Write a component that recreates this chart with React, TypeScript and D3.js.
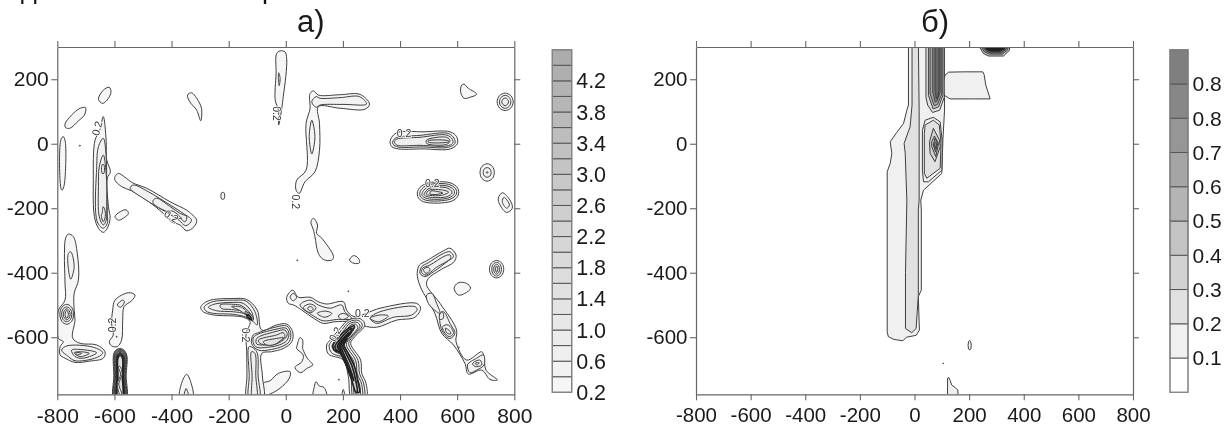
import React, { useEffect, useRef } from 'react'
import { axisBottom, axisLeft, axisRight, axisTop, curveCatmullRomClosed, curveLinearClosed, line, scaleLinear, select } from 'd3'

type Pt = [number, number]
type Ring = [number, Pt[]]

// tick labels and legend levels
const xTicks = [-800, -600, -400, -200, 0, 200, 400, 600, 800]
const yTicks = [200, 0, -200, -400, -600]
const levelsA = [0.2, 0.4, 0.6, 0.8, 1.0, 1.2, 1.4, 1.6, 1.8, 2.0, 2.2, 2.4, 2.6, 2.8, 3.0, 3.2, 3.4, 3.6, 3.8, 4.0, 4.2, 4.4, 4.6]
const legendLabelsA = ['0.2', '0.6', '1.0', '1.4', '1.8', '2.2', '2.6', '3.0', '3.4', '3.8', '4.2']
const levelsB = [0, 0.1, 0.2, 0.3, 0.4, 0.5, 0.6, 0.7, 0.8, 0.85, 0.95]
const legendLabelsB = ['0.1', '0.2', '0.3', '0.4', '0.5', '0.6', '0.7', '0.8', '0.8']

// panel a, contour rings in data units, outer first
const topStreak: Ring[] = [
  [0.2, [[-32, 280], [-20, 288], [-3, 285], [3, 265], [0, 208], [-9, 146], [-14, 110], [-25, 58], [-26, 105], [-37, 135], [-34, 218]]],
  [0.4, [[-25, 220], [-20, 205], [-23, 180], [-26, 205]]],
]
const upperLeftBlobs: Ring[] = [
  [0.2, [[-656, 138], [-639, 166], [-618, 175], [-612, 161], [-621, 141], [-641, 125]]],
  [0.2, [[-773, 61], [-750, 89], [-720, 110], [-701, 112], [-705, 89], [-726, 71], [-756, 48], [-771, 50]]],
  [0.2, [[-787, 14], [-779, 22], [-772, 6], [-777, -133], [-784, -144], [-789, -128]]],
  [0.2, [[-721, -4], [-719, -6], [-721, -8], [-723, -6]]],
  [0.2, [[-344, 151], [-330, 158], [-312, 141], [-295, 109], [-298, 71], [-312, 104], [-336, 130]]],
  [0.2, [[-225, -152], [-216, -152], [-216, -171], [-225, -171]]],
  [0.2, [[-598, -226], [-580, -211], [-559, -205], [-551, -216], [-569, -231], [-586, -237]]],
]
const ridgeMinus650: Ring[] = [
  [0.2, [[-639, 84], [-629, 11], [-627, -50], [-614, -87], [-625, -107], [-621, -195], [-615, -231], [-625, -262], [-639, -275], [-656, -262], [-670, -226], [-674, -113], [-668, 11], [-652, 40]]],
  [0.4, [[-639, 17], [-629, -40], [-627, -133], [-625, -216], [-625, -247], [-639, -262], [-660, -242], [-662, -71], [-656, -9]]],
  [0.6, [[-639, -35], [-629, -92], [-627, -195], [-629, -237], [-639, -252], [-653, -226], [-656, -133], [-653, -71]]],
  [0.8, [[-633, -206], [-632, -226], [-639, -242], [-646, -221], [-643, -216], [-640, -195]]],
  [1.0, [[-643, -65], [-637, -65], [-637, -92], [-643, -92]]],
]
const diagonalRidge: Ring[] = [
  [0.2, [[-598, -102], [-586, -92], [-563, -104], [-537, -121], [-487, -138], [-405, -180], [-347, -206], [-330, -218], [-312, -237], [-321, -257], [-347, -270], [-370, -252], [-400, -242], [-429, -216], [-487, -175], [-540, -146], [-575, -133], [-598, -113]]],
  [0.4, [[-545, -138], [-534, -128], [-481, -149], [-405, -190], [-359, -216], [-330, -237], [-350, -254], [-382, -231], [-452, -195], [-499, -169]]],
  [0.6, [[-464, -175], [-452, -169], [-405, -195], [-370, -216], [-347, -226], [-353, -242], [-382, -221], [-430, -205], [-464, -185]]],
  [0.8, [[-400, -208], [-375, -222], [-365, -232], [-385, -228], [-410, -215]]],
]
const elbow100: Ring[] = [
  [0.2, [[85, 156], [97, 164], [114, 151], [190, 152], [260, 153], [293, 123], [277, 107], [190, 110], [114, 115], [118, 63], [118, -20], [102, -87], [67, -118], [47, -154], [36, -144], [38, -113], [71, -82], [71, 63], [85, 110], [83, 141]]],
  [0.4, [[106, 146], [120, 141], [190, 143], [258, 146], [283, 123], [200, 122], [120, 120], [106, 113], [91, 130]]],
  [0.4, [[91, 73], [102, 22], [91, -32], [82, 22]]],
]
const bar500Upper: Ring[] = [
  [0.2, [[394, 36], [480, 37], [575, 37], [598, 22], [601, 1], [577, -16], [480, -16], [394, -16], [371, -9], [365, 6], [374, 24]]],
  [0.4, [[383, 17], [470, 26], [569, 32], [589, 17], [592, 1], [569, -11], [480, -10], [388, -9], [374, 1]]],
  [0.6, [[388, 14], [470, 20], [563, 27], [583, 14], [584, 1], [563, -7], [470, -5], [388, -4], [380, 6]]],
  [0.8, [[493, 11], [563, 20], [575, 9], [563, -2], [493, 1]]],
  [1.0, [[499, 9], [570, 9], [570, 6], [499, 5]]],
]
const bar500Lower: Ring[] = [
  [0.2, [[493, -123], [575, -121], [602, -138], [604, -159], [581, -178], [482, -180], [462, -164], [464, -142]]],
  [0.4, [[497, -128], [570, -126], [595, -140], [597, -157], [575, -172], [490, -175], [470, -162], [472, -145]]],
  [0.6, [[500, -133], [565, -131], [588, -143], [590, -155], [570, -168], [495, -170], [477, -160], [480, -148]]],
  [0.8, [[503, -138], [560, -136], [580, -146], [582, -153], [565, -164], [500, -165], [484, -158], [488, -150]]],
  [1.0, [[505, -143], [545, -143], [570, -150], [545, -160], [505, -160], [492, -156], [495, -150]]],
  [1.2, [[508, -147], [530, -148], [550, -153], [530, -157], [505, -156]]],
]
const rightSpots: Ring[] = [
  [0.2, [[616, 182], [624, 185], [639, 172], [668, 154], [645, 144], [624, 141], [612, 161]]],
  [0.2, [[740, 130], [748, 149], [768, 157], [788, 149], [796, 130], [788, 111], [768, 103], [748, 111]]],
  [0.4, [[748, 130], [754, 144], [768, 150], [782, 144], [788, 130], [782, 116], [768, 110], [754, 116]]],
  [0.6, [[756, 130], [760, 138], [768, 142], [776, 138], [780, 130], [776, 122], [768, 118], [760, 122]]],
  [0.2, [[680, -89], [687, -70], [705, -62], [723, -70], [730, -89], [723, -108], [705, -116], [687, -108]]],
  [0.4, [[691, -89], [695, -78], [705, -74], [715, -78], [719, -89], [715, -100], [705, -104], [695, -100]]],
  [0.6, [[702, -89], [705, -86], [708, -89], [705, -92]]],
  [0.2, [[758, -152], [785, -175], [793, -200], [773, -213], [750, -190], [744, -169]]],
  [0.4, [[764, -166], [783, -190], [773, -200], [758, -180]]],
  [0.2, [[589, -448], [604, -431], [633, -433], [647, -448], [627, -464], [604, -469]]],
  [0.2, [[713, -389], [720, -370], [738, -362], [756, -370], [763, -389], [756, -408], [738, -416], [720, -408]]],
  [0.4, [[721, -389], [726, -374], [738, -368], [750, -374], [755, -389], [750, -404], [738, -410], [726, -404]]],
  [0.6, [[728, -389], [731, -378], [738, -374], [745, -378], [748, -389], [745, -400], [738, -404], [731, -400]]],
  [0.8, [[734, -389], [738, -379], [742, -389], [738, -399]]],
]
const leftColumn: Ring[] = [
  [0.2, [[-771, -293], [-761, -280], [-744, -288], [-730, -340], [-726, -423], [-741, -464], [-741, -516], [-738, -547], [-746, -603], [-720, -619], [-662, -624], [-633, -645], [-639, -665], [-686, -674], [-738, -678], [-773, -665], [-790, -655], [-790, -629], [-779, -614], [-796, -604], [-800, -567], [-796, -516], [-773, -485], [-773, -433], [-775, -340]]],
  [0.4, [[-761, -340], [-753, -335], [-741, -381], [-753, -420], [-762, -381]]],
  [0.4, [[-791, -529], [-784, -507], [-767, -498], [-750, -507], [-743, -529], [-750, -551], [-767, -560], [-784, -551]]],
  [0.6, [[-785, -529], [-780, -513], [-767, -506], [-754, -513], [-749, -529], [-754, -545], [-767, -552], [-780, -545]]],
  [0.8, [[-779, -529], [-775, -517], [-767, -512], [-759, -517], [-755, -529], [-759, -541], [-767, -546], [-775, -541]]],
  [1.0, [[-773, -529], [-767, -516], [-761, -529], [-767, -542]]],
  [0.4, [[-785, -640], [-767, -627], [-674, -631], [-641, -648], [-662, -663], [-738, -673], [-761, -660]]],
  [0.6, [[-750, -640], [-720, -638], [-662, -648], [-709, -665], [-738, -660]]],
  [0.8, [[-741, -648], [-720, -645], [-688, -650], [-720, -660]]],
  [1.0, [[-734, -648], [-715, -650], [-732, -655]]],
]
const hookMinus580: Ring[] = [
  [0.2, [[-598, -485], [-551, -462], [-528, -469], [-540, -487], [-566, -505], [-571, -547], [-575, -609], [-590, -629], [-610, -627], [-618, -614], [-604, -593], [-610, -557], [-606, -516]]],
  [0.4, [[-590, -500], [-571, -485], [-565, -490], [-578, -507]]],
  [0.4, [[-593, -597], [-591, -597], [-591, -600], [-593, -600]]],
]
const columnMinus580: Ring[] = [
  [0.2, [[-602, -790], [-602, -720], [-602, -650], [-590, -637], [-571, -637], [-557, -655], [-559, -720], [-559, -790]]],
  [0.4, [[-600, -790], [-600, -720], [-600, -651], [-590, -639], [-572, -639], [-559, -655], [-561, -720], [-561, -790]]],
  [0.6, [[-598, -790], [-598, -720], [-598, -652], [-589, -641], [-572, -641], [-561, -656], [-563, -720], [-563, -790]]],
  [0.8, [[-596, -790], [-596, -720], [-596, -653], [-588, -643], [-573, -643], [-563, -657], [-564, -720], [-564, -790]]],
  [1.0, [[-594, -790], [-594, -720], [-594, -655], [-587, -645], [-574, -645], [-565, -658], [-566, -720], [-566, -790]]],
  [1.2, [[-592, -790], [-592, -720], [-592, -658], [-586, -648], [-575, -648], [-567, -660], [-568, -720], [-568, -790]]],
  [1.4, [[-590, -790], [-590, -720], [-590, -660], [-585, -652], [-576, -652], [-569, -662], [-570, -720], [-570, -790]]],
  [1.6, [[-588, -790], [-588, -720], [-588, -665], [-582, -657], [-577, -657], [-571, -668], [-572, -720], [-572, -790]]],
  [0.2, [[-581, -690], [-573, -715], [-585, -745], [-575, -775], [-580, -778], [-590, -745], [-578, -715], [-586, -692]]],
]
const bottomTongues: Ring[] = [
  [0.2, [[-370, -790], [-365, -743], [-347, -715], [-333, -738], [-326, -790]]],
  [0.4, [[-356, -790], [-349, -759], [-340, -790]]],
  [0.2, [[-79, -743], [-55, -735], [-26, -712], [15, -707], [12, -728], [-20, -758], [-55, -776], [-73, -779]]],
  [0.2, [[97, -790], [100, -753], [106, -738], [117, -751], [134, -756], [143, -790]]],
  [0.2, [[197, -790], [201, -762], [207, -790]]],
  [0.2, [[185, -730], [187, -730], [187, -733], [185, -733]]],
  [0.2, [[218, -456], [220, -456], [220, -459], [218, -459]]],
  [0.2, [[39, -360], [41, -360], [41, -363], [39, -363]]],
  [0.2, [[40, -624], [50, -601], [59, -609], [59, -635], [61, -640], [75, -665], [94, -686], [73, -697], [52, -710], [32, -694], [56, -676], [61, -655], [38, -635]]],
  [0.2, [[88, -242], [97, -231], [111, -252], [108, -278], [126, -293], [167, -350], [161, -361], [132, -359], [114, -340], [102, -288], [97, -268]]],
  [0.2, [[223, -361], [237, -347], [254, -355], [258, -369], [239, -371]]],
]
const shoulderMinus150: Ring[] = [
  [0.2, [[-298, -507], [-271, -487], [-184, -480], [-137, -483], [-100, -516], [-84, -578], [-32, -562], [3, -559], [24, -583], [21, -614], [-9, -635], [-50, -645], [-84, -650], [-82, -720], [-79, -790], [-135, -790], [-136, -720], [-137, -640], [-139, -588], [-125, -552], [-149, -538], [-184, -534], [-254, -531], [-289, -521]]],
  [0.4, [[-128, -629], [-102, -645], [-97, -720], [-93, -790], [-128, -790], [-128, -720]]],
  [0.6, [[-120, -645], [-108, -650], [-105, -720], [-102, -790], [-117, -790], [-118, -720]]],
  [0.4, [[-286, -507], [-260, -491], [-178, -485], [-139, -488], [-108, -521], [-100, -562], [-114, -552], [-139, -538], [-184, -529], [-254, -526], [-279, -519]]],
  [0.6, [[-271, -507], [-248, -497], [-184, -492], [-149, -495], [-120, -521], [-114, -547], [-143, -528], [-184, -521], [-242, -518]]],
  [0.8, [[-230, -500], [-184, -498], [-155, -502], [-125, -526], [-120, -542], [-149, -521], [-190, -514], [-225, -511]]],
  [1.0, [[-190, -505], [-155, -507], [-128, -531], [-137, -531], [-163, -516]]],
  [1.2, [[-143, -521], [-120, -531], [-114, -547], [-131, -542]]],
  [1.4, [[-137, -529], [-125, -535], [-120, -545], [-131, -539]]],
  [0.4, [[-114, -593], [-96, -586], [-38, -569], [3, -565], [17, -586], [12, -614], [-14, -629], [-50, -638], [-96, -640], [-120, -619]]],
  [0.6, [[-111, -598], [-38, -576], [1, -572], [11, -588], [3, -611], [-23, -624], [-61, -631], [-102, -631], [-114, -617]]],
  [0.8, [[-102, -604], [-38, -583], [-3, -578], [5, -593], [-9, -609], [-38, -622], [-73, -624], [-102, -621]]],
  [1.0, [[-96, -609], [-32, -593], [-9, -586], [-3, -598], [-26, -614], [-61, -624], [-90, -619]]],
  [1.2, [[-79, -614], [-26, -603], [-9, -601], [-38, -622], [-67, -624]]],
]
const bandTo450: Ring[] = [
  [0.2, [[3, -476], [24, -454], [44, -476], [85, -476], [114, -490], [143, -497], [202, -490], [213, -516], [239, -536], [330, -510], [458, -495], [472, -510], [452, -538], [388, -547], [318, -569], [272, -565], [225, -552], [172, -552], [131, -557], [97, -541], [56, -516], [27, -500], [9, -495]]],
  [0.4, [[15, -476], [26, -464], [38, -476], [26, -487]]],
  [0.4, [[50, -500], [85, -485], [114, -500], [155, -510], [196, -500], [207, -521], [231, -542], [178, -545], [131, -549], [97, -534]]],
  [0.6, [[61, -508], [85, -497], [106, -508], [87, -524]]],
  [0.8, [[76, -510], [87, -505], [96, -512], [87, -519]]],
  [0.6, [[110, -526], [137, -519], [161, -526], [137, -538]]],
  [0.6, [[184, -534], [202, -526], [219, -536], [196, -545]]],
  [0.4, [[295, -541], [330, -521], [452, -505], [460, -514], [441, -531], [377, -538], [318, -557]]],
  [0.6, [[295, -541], [330, -531], [359, -534], [324, -552]]],
]
const blackRidge: Ring[] = [
  [0.2, [[219, -547], [260, -542], [277, -562], [242, -598], [227, -619], [262, -671], [266, -712], [281, -743], [281, -790], [231, -790], [219, -722], [202, -671], [149, -652], [143, -624], [155, -609], [190, -573]]],
  [0.4, [[222, -552], [255, -548], [268, -564], [235, -598], [220, -620], [253, -672], [258, -712], [273, -745], [273, -790], [238, -790], [228, -722], [210, -668], [160, -648], [152, -624], [165, -608], [195, -578]]],
  [0.6, [[225, -557], [250, -554], [260, -566], [228, -600], [212, -622], [245, -673], [250, -712], [266, -747], [266, -790], [244, -790], [235, -722], [217, -665], [170, -643], [162, -626], [175, -610], [200, -583]]],
  [0.8, [[228, -562], [245, -560], [252, -570], [222, -602], [205, -625], [238, -675], [243, -712], [259, -750], [259, -790], [250, -790], [241, -720], [222, -662], [178, -640], [172, -628], [184, -612], [205, -588]]],
  [1.0, [[232, -570], [242, -568], [215, -604], [198, -628], [232, -678], [237, -712], [250, -755], [246, -720], [225, -660], [185, -636], [182, -630], [192, -615], [210, -592]]],
  [1.2, [[228, -578], [234, -576], [208, -606], [192, -630], [222, -672], [230, -712], [240, -725], [226, -690], [215, -655], [192, -632], [198, -618], [214, -598]]],
  [1.4, [[205, -612], [215, -605], [200, -628], [215, -655], [225, -690], [222, -695], [205, -660], [190, -628]]],
  [1.6, [[200, -618], [208, -612], [196, -630], [208, -652], [218, -680], [214, -682], [200, -655], [192, -630]]],
  [1.8, [[165, -625], [185, -600], [215, -575], [240, -565], [225, -590], [200, -615], [215, -645], [240, -690], [252, -735], [258, -770], [248, -770], [232, -720], [215, -680], [195, -650], [170, -640]]],
  [2.0, [[172, -628], [190, -606], [215, -582], [232, -572], [218, -594], [195, -616], [208, -645], [232, -690], [245, -735], [250, -770], [245, -770], [228, -725], [208, -680], [190, -648], [176, -638]]],
  [2.2, [[180, -628], [195, -610], [215, -590], [222, -585], [210, -598], [190, -618], [200, -645], [222, -690], [238, -735], [232, -725], [212, -685], [195, -650], [184, -636]]],
  [2.4, [[186, -628], [200, -612], [212, -598], [202, -604], [187, -620], [194, -645], [214, -690], [228, -725], [218, -695], [204, -665], [190, -645]]],
]
const riverTo740: Ring[] = [
  [0.2, [[468, -376], [493, -363], [552, -332], [575, -324], [596, -345], [589, -366], [540, -392], [499, -418], [493, -438], [540, -495], [598, -578], [596, -614], [633, -671], [686, -645], [694, -660], [701, -702], [741, -733], [715, -731], [686, -702], [639, -714], [627, -681], [587, -624], [546, -588], [522, -526], [470, -441], [460, -402]]],
  [0.4, [[476, -381], [499, -369], [552, -340], [575, -335], [587, -350], [569, -363], [517, -397], [487, -412], [470, -402]]],
  [0.6, [[479, -386], [505, -376], [557, -348], [575, -345], [577, -355], [528, -383], [491, -407], [476, -400]]],
  [0.8, [[482, -390], [499, -383], [505, -392], [491, -402]]],
  [0.4, [[493, -469], [511, -464], [528, -495], [540, -526], [528, -521], [499, -495]]],
  [0.4, [[540, -526], [552, -521], [575, -557], [592, -588], [575, -604], [552, -588], [540, -557]]],
  [0.6, [[549, -567], [569, -562], [587, -588], [572, -598], [554, -583]]],
  [0.8, [[559, -572], [575, -582], [577, -590], [563, -586]]],
  [0.6, [[538, -531], [548, -521], [552, -541], [540, -545]]],
  [0.4, [[605, -630], [607, -630], [607, -633], [605, -633]]],
  [0.4, [[636, -686], [668, -665], [692, -655], [694, -686], [668, -702], [645, -710]]],
  [0.6, [[654, -681], [680, -671], [686, -686], [663, -691]]],
  [0.8, [[663, -681], [677, -679], [669, -686]]],
]
const contoursA: Ring[] = [
  ...topStreak, ...upperLeftBlobs, ...ridgeMinus650, ...diagonalRidge, ...elbow100, ...bar500Upper, ...bar500Lower,
  ...rightSpots, ...leftColumn, ...hookMinus580, ...columnMinus580, ...bottomTongues, ...shoulderMinus150, ...bandTo450,
  ...blackRidge, ...riverTo740,
]
// x, y, rotation of the inline "0.2" labels
const labelsA: [number, number, number][] = [
  [-662, 48, -75], [-30, 94, 90], [35, -180, 90], [-400, -224, 30], [414, 34, 0], [513, -121, 0],
  [-610, -562, -90], [-139, -593, 90], [268, -526, 0], [172, -590, -60],
]

// panel b
const wideStrip: Ring[] = [
  [0.1, [[-22, 320], [-22, 120], [-28, 104], [-40, 63], [-65, 35], [-89, 6], [-83, -30], [-89, -61], [-100, -87], [-100, -583], [-96, -598], [-75, -607], [-43, -611], [-29, -600], [6, -594], [18, -578], [14, -474], [25, -454], [25, -205], [23, -175], [33, -144], [100, -92], [104, 11], [110, 104], [110, 320]]],
  [0.2, [[-9, 320], [-9, 120], [-16, 53], [-38, 1], [-34, -30], [-28, -175], [-33, -400], [-33, -573], [-10, -586], [6, -573], [14, -470], [14, -205], [17, -175], [17, 104], [14, 320]]],
]
const sideBox: Ring[] = [
  [0.1, [[112, 213], [125, 222], [180, 223], [250, 223], [255, 214], [261, 182], [277, 139], [200, 139], [130, 139], [108, 151], [104, 187]]],
]
const darkStrip: Ring[] = [
  [0.2, [[42, 320], [42, 144], [48, 120], [66, 97], [92, 104], [109, 144], [109, 320]]],
  [0.4, [[51, 320], [51, 150], [68, 108], [88, 114], [104, 150], [104, 320]]],
  [0.6, [[57, 320], [57, 155], [72, 118], [84, 122], [100, 155], [100, 320]]],
  [0.8, [[67, 320], [67, 160], [76, 129], [82, 132], [94, 160], [94, 320]]],
  [1.0, [[75, 320], [75, 165], [80, 139], [84, 141], [90, 165], [90, 320]]],
]
const lens: Ring[] = [
  [0.1, [[39, 73], [69, 82], [94, 68], [102, 1], [100, -82], [51, -118], [33, -118], [29, -82], [29, 42]]],
  [0.2, [[39, 58], [69, 73], [91, 58], [97, 1], [94, -76], [45, -107], [36, -92], [36, 32]]],
  [0.3, [[69, 48], [91, 12], [94, -9], [75, -56], [57, -30], [55, 6]]],
  [0.4, [[73, 24], [88, 1], [78, -40], [63, -9], [63, 6]]],
  [0.6, [[75, 17], [85, 1], [77, -25], [69, -4]]],
  [0.8, [[77, 5], [82, 1], [77, -15], [72, -3]]],
]
const topBlob: Ring[] = [
  [0.4, [[238, 320], [238, 300], [252, 280], [271, 272], [326, 272], [348, 290], [348, 320]]],
  [0.7, [[244, 320], [244, 300], [256, 285], [274, 278], [322, 278], [342, 292], [342, 320]]],
  [1.0, [[250, 320], [250, 300], [260, 289], [277, 282], [318, 282], [337, 294], [337, 320]]],
  [1.5, [[258, 320], [258, 300], [266, 292], [280, 288], [312, 288], [328, 295], [330, 320]]],
]
const smallSpots: Ring[] = [
  [0.1, [[196, -625], [198, -614], [202, -610], [206, -614], [208, -625], [206, -636], [202, -640], [198, -636]]],
  [0.1, [[104, -680], [106, -680], [106, -682], [104, -682]]],
  [0.1, [[121, -790], [121, -727], [126, -725], [131, -735], [136, -748], [150, -757], [159, -764], [159, -790]]],
]
const contoursB: Ring[] = [...wideStrip, ...sideBox, ...darkStrip, ...lens, ...topBlob, ...smallSpots]

// what is left of the caption line cut off by the top edge
const captionFragments: [string, number][] = [['д', 21], ['р', 262]]

const colorA = scaleLinear<string>().domain([0.2, 4.6]).range(['#f6f6f6', '#a8a8a8'])
const colorB = scaleLinear<string>().domain([0, 0.1, 0.95]).range(['#ffffff', '#f0f0f0', '#707070'])

const AXIS = '#666666'
const LINE = '#3f3f3f'
const FONT = '"Liberation Sans", Arial, sans-serif'

interface PanelProps {
  id: string
  left: number
  right: number
  contours: Ring[]
  color: (v: number) => string
  labels: [number, number, number][]
  fontSize: number
  curve: any
  heavyFrom: number
}

function ContourPanel({ id, left, right, contours, color, labels, fontSize, curve, heavyFrom }: PanelProps) {
  const axesRef = useRef<SVGGElement>(null)

  const x = scaleLinear().domain([-800, 800]).range([left, right])
  const y = scaleLinear().domain([-777, 300]).range([394.3, 47])

  const ringPath = line<Pt>()
    .x(d => x(d[0]))
    .y(d => y(d[1]))
    .curve(curve)

  useEffect(() => {
    const g = select(axesRef.current)
    g.selectAll('*').remove()

    const bottom = axisBottom(x).tickValues(xTicks).tickSize(6).tickSizeOuter(0).tickPadding(7.5).tickFormat(d => String(d))
    const lefty = axisLeft(y).tickValues(yTicks).tickSize(6).tickSizeOuter(0).tickPadding(2.5).tickFormat(d => String(d))
    const top = axisTop(x).tickValues(xTicks).tickSize(6).tickSizeOuter(0).tickFormat(() => '')
    const righty = axisRight(y).tickValues(yTicks).tickSize(6).tickSizeOuter(0).tickFormat(() => '')

    g.append('g').attr('transform', 'translate(0,394.3)').call(bottom as any)
    g.append('g').attr('transform', `translate(${left},0)`).call(lefty as any)
    g.append('g').attr('transform', 'translate(0,47)').call(top as any)
    g.append('g').attr('transform', `translate(${right},0)`).call(righty as any)

    g.selectAll('path').attr('stroke', AXIS).attr('stroke-width', 1.2)
    g.selectAll('line').attr('stroke', AXIS).attr('stroke-width', 1.1)
    g.selectAll('text')
      .attr('fill', '#1a1a1a')
      .attr('font-size', fontSize)
      .attr('font-family', FONT)
  }, [])

  return (
    <g>
      <clipPath id={id}>
        <rect x={left} y={47} width={right - left} height={347.3} />
      </clipPath>
      <g clipPath={`url(#${id})`}>
        {contours.map((ring, i) => (
          <path
            key={i}
            d={ringPath(ring[1]) ?? ''}
            fill={color(ring[0])}
            stroke={ring[0] >= heavyFrom ? '#222' : LINE}
            strokeWidth={ring[0] >= heavyFrom ? 1.7 : 1}
          />
        ))}
        {labels.map((d, i) => (
          <text
            key={i}
            transform={`translate(${x(d[0])},${y(d[1])}) rotate(${d[2]})`}
            textAnchor="middle"
            dominantBaseline="central"
            fontSize={10.5}
            fontFamily={FONT}
            fill="#333"
            stroke="#fff"
            strokeWidth={1.5}
            paintOrder="stroke"
          >
            0.2
          </text>
        ))}
      </g>
      <g ref={axesRef} />
    </g>
  )
}

function Legend({ left, width, levels, color, labels, labelEvery, fontSize }: {
  left: number; width: number; levels: number[]; color: (v: number) => string; labels: string[]; labelEvery: number; fontSize: number
}) {
  const y = scaleLinear().domain([0, levels.length - 1]).range([392.3, 49.7])
  const firstLabel = labelEvery === 2 ? 0 : 1
  return (
    <g>
      {levels.slice(0, -1).map((v, i) => (
        <rect key={i} x={left} y={y(i + 1)} width={width} height={y(i) - y(i + 1)} fill={color(v)} stroke={i === 0 && labelEvery === 1 ? '#888' : '#555'} strokeWidth={1} />
      ))}
      <rect x={left} y={49.7} width={width} height={342.6} fill="none" stroke="#888" strokeWidth={1.2} />
      {labels.map((t, i) => (
        <text
          key={i}
          x={left + width + 4.5}
          y={y(firstLabel + i * labelEvery)}
          dy="0.35em"
          fontSize={fontSize}
          fontFamily={FONT}
          fill="#1a1a1a"
        >
          {t}
        </text>
      ))}
    </g>
  )
}

export default function App() {
  return (
    <svg
      width={1224}
      height={427}
      viewBox="0 0 1224 427"
      style={{ position: 'absolute', left: 0, top: 0, background: '#fff', filter: 'blur(0.35px)' }}
    >
      {captionFragments.map(([t, px], i) => (
        <text key={i} x={px} y={-2} fontSize={27} fontFamily={FONT} fill="#111">{t}</text>
      ))}
      <text x={297} y={32.3} fontSize={31} fontFamily={FONT} fill="#1a1a1a">а)</text>
      <text x={921} y={32.3} fontSize={31} fontFamily={FONT} fill="#1a1a1a">б)</text>

      <ContourPanel id="clip-a" left={57.3} right={514.3} contours={contoursA} color={colorA} labels={labelsA} fontSize={21} curve={curveCatmullRomClosed.alpha(0.5)} heavyFrom={1.4} />
      <Legend left={552.3} width={19.4} levels={levelsA} color={colorA} labels={legendLabelsA} labelEvery={2} fontSize={21.5} />

      <ContourPanel id="clip-b" left={696} right={1133} contours={contoursB} color={colorB} labels={[]} fontSize={20.5} curve={curveLinearClosed} heavyFrom={1.5} />
      <Legend left={1170} width={18} levels={levelsB} color={colorB} labels={legendLabelsB} labelEvery={1} fontSize={21} />
    </svg>
  )
}
